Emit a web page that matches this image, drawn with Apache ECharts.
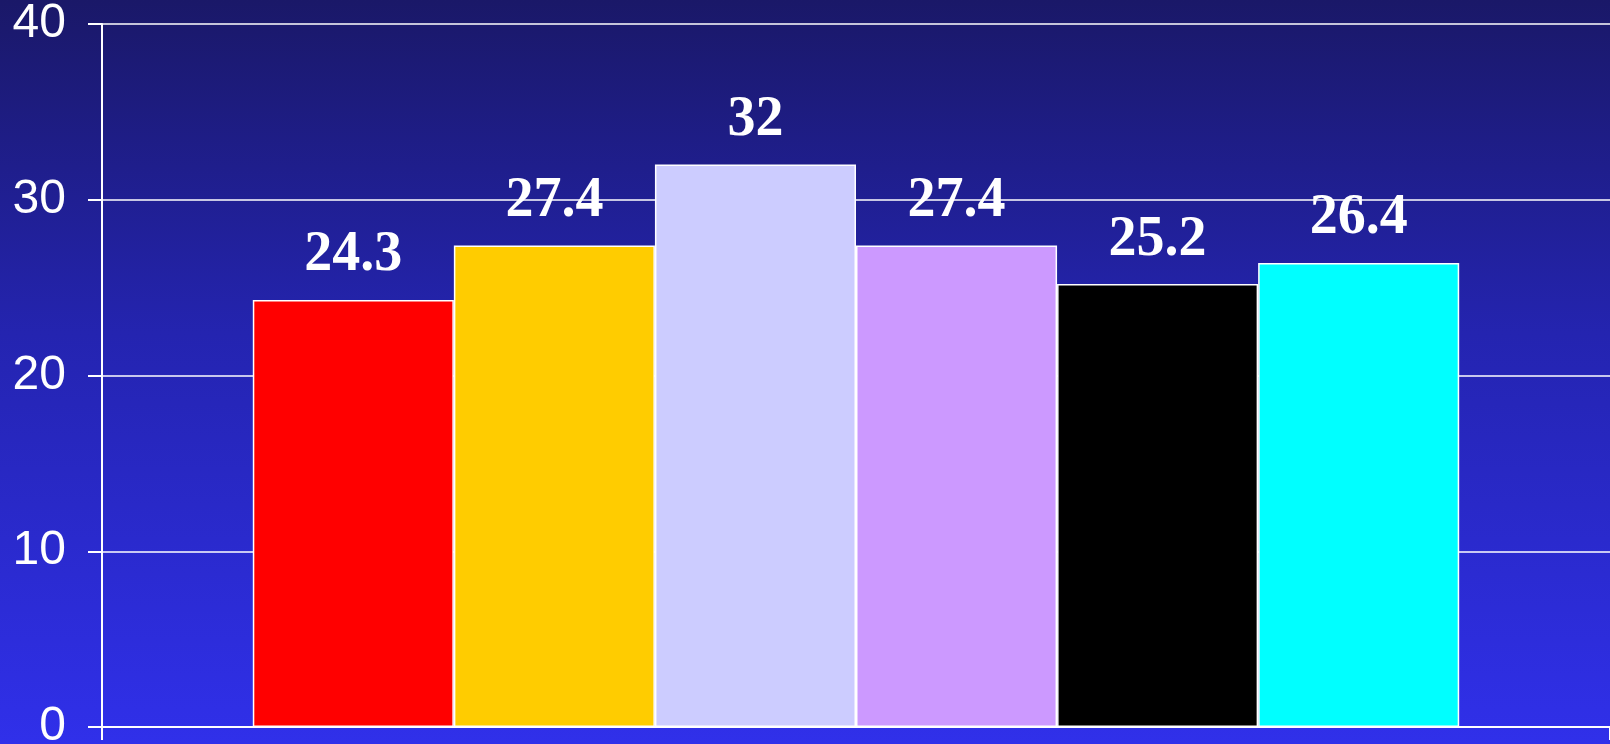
<!DOCTYPE html>
<html>
<head>
<meta charset="utf-8">
<script src="https://cdn.jsdelivr.net/npm/echarts@6/dist/echarts.min.js"></script>
<style>
  html, body { margin: 0; padding: 0; }
  body {
    width: 1610px; height: 744px; overflow: hidden;
    background: linear-gradient(to bottom, #1a1868 0%, #2424b0 45%, #3030ea 100%);
  }
  #chart { width: 1610px; height: 744px; }
</style>
</head>
<body>
<div id="chart"></div>
<script>
var categories = [''];
var seriesNames = ['A', 'B', 'C', 'D', 'E', 'F'];
var seriesValues = [24.3, 27.4, 32, 27.4, 25.2, 26.4];
var seriesColors = ['#ff0000', '#ffcc00', '#ccccff', '#cc99ff', '#000000', '#00ffff'];
var yTicks = [0, 10, 20, 30, 40];

(function() {
  var chart = echarts.init(document.getElementById('chart'), null, { renderer: 'canvas' });

  var series = seriesValues.map(function(v, i) {
    return {
      name: seriesNames[i],
      type: 'bar',
      data: [v],
      barGap: '0%',
      barCategoryGap: '20%',
      itemStyle: { color: seriesColors[i], borderColor: '#ffffff', borderWidth: 1.5 },
      label: {
        show: true,
        position: 'top',
        distance: 16,
        color: '#ffffff',
        fontFamily: 'Liberation Serif, Times New Roman, serif',
        fontWeight: 'bold',
        fontSize: 56
      }
    };
  });

  chart.setOption({
    animation: false,
    grid: { left: 102, right: 0, top: 24, bottom: 17, outerBoundsMode: 'none', containLabel: false },
    xAxis: {
      type: 'category',
      data: categories,
      axisLine: { lineStyle: { color: '#ffffff', width: 2 } },
      axisTick: { show: true, length: 13, lineStyle: { color: '#ffffff', width: 2 } },
      axisLabel: { show: false }
    },
    yAxis: {
      type: 'value',
      min: yTicks[0],
      max: yTicks[yTicks.length - 1],
      interval: 10,
      axisLine: { show: true, lineStyle: { color: '#ffffff', width: 2 } },
      axisTick: { show: true, length: 14, lineStyle: { color: '#ffffff', width: 2 } },
      splitLine: { show: true, lineStyle: { color: '#ffffff', width: 1.5 } },
      axisLabel: {
        color: '#ffffff',
        fontFamily: 'Liberation Sans, Arial, sans-serif',
        fontSize: 48,
        margin: 36,
        padding: [8, 0, 0, 0]
      }
    },
    series: series
  });
})();
</script>
</body>
</html>
